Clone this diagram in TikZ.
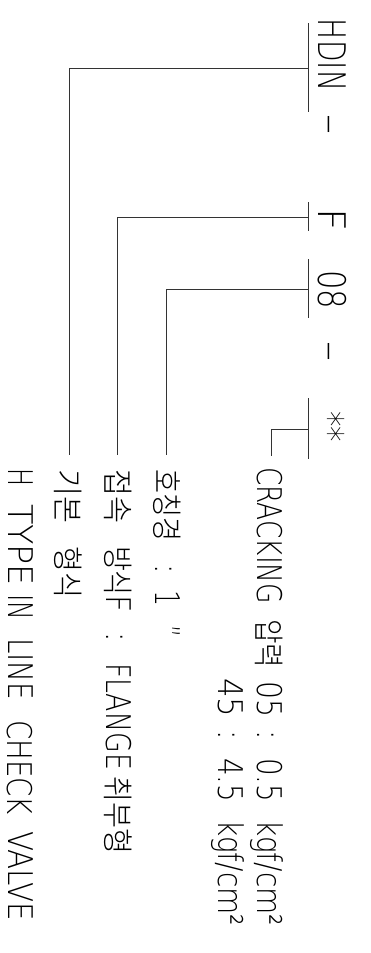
\documentclass[tikz,border=0pt]{standalone}
\usepackage{fontspec}
\usepackage{graphicx}
\IfFontExistsTF{DejaVu Sans ExtraLight}{\setmainfont{DejaVu Sans ExtraLight}}{%
  \IfFontExistsTF{Fira Sans Light}{\setmainfont{Fira Sans Light}}{\setmainfont{Fira Sans}}}
\IfFontExistsTF{Noto Sans CJK KR Light}{\newfontfamily\kr{Noto Sans CJK KR Light}}{%
  \IfFontExistsTF{Noto Sans CJK KR DemiLight}{\newfontfamily\kr{Noto Sans CJK KR DemiLight}}{%
    \IfFontExistsTF{Noto Sans CJK KR Thin}{\newfontfamily\kr{Noto Sans CJK KR Thin}}{\newfontfamily\kr{Noto Sans CJK KR}}}}
\newcommand\fitw[2]{\resizebox{#1pt}{\height}{#2}}
\newcommand\K[1]{{\kr\fontsize{31}{31}\selectfont #1}}
\tikzset{
  code/.style={rotate=-90, anchor=base west, inner sep=0pt, outer sep=0pt, text=black, font=\fontsize{38}{38}\selectfont},
  desc/.style={rotate=-90, anchor=base west, inner sep=0pt, outer sep=0pt, text=black, font=\fontsize{34}{34}\selectfont},
  tick/.style={line width=0.9pt, draw=black!80},
  conn/.style={line width=0.9pt, draw=black!80}
}
\begin{document}
\begin{tikzpicture}[x=1pt,y=1pt]
\useasboundingbox (0,0) rectangle (371,-953);
% code row
\node[code] (hdin) at (318,-19)  {\fitw{72}{HDIN}};
\node[code] (d1)   at (318,-113) {\fitw{22}{-}};
\node[code] (f)    at (318,-208) {\fitw{23}{F}};
\node[code] (n08)  at (318,-270) {\fitw{39}{08}};
\node[code] (d2)   at (318,-340) {\fitw{22}{-}};
\node[code] (ast)  at (316,-411) {\fitw{31}{**}};
% ticks
\coordinate (h1) at (308,-23);  \coordinate (h2) at (308,-112);
\coordinate (f1) at (308,-202); \coordinate (f2) at (308,-231);
\coordinate (o1) at (308,-259); \coordinate (o2) at (308,-318);
\coordinate (a1) at (308,-398); \coordinate (a2) at (308,-459);
\coordinate (hj) at (308,-68);  \coordinate (fj) at (308,-217);
\coordinate (oj) at (308,-289); \coordinate (aj) at (308,-429);
\coordinate (he) at (69,-455);  \coordinate (fe) at (117,-455);
\coordinate (oe) at (166,-455); \coordinate (ae) at (271,-456);
\draw[tick] (h1) -- (h2);
\draw[tick] (f1) -- (f2);
\draw[tick] (o1) -- (o2);
\draw[tick] (a1) -- (a2);
\draw[conn] (hj) -| (he);
\draw[conn] (fj) -| (fe);
\draw[conn] (oj) -| (oe);
\draw[conn] (aj) -| (ae);
% cracking line
\node[desc] (cr1) at (257,-467) {\fitw{137}{CRACKING}};
\node[desc] (cr2) at (257,-619) {\fitw{49}{\K{압력}}};
\node[desc] (cr3) at (257,-681) {\fitw{36}{05}};
\node[desc] (cr4) at (257,-729) {:};
\node[desc] (cr5) at (257,-758) {\fitw{44}{0.5}};
\node[desc] (cr6) at (257,-820) {\fitw{106}{kgf/cm²}};
% 45 line
\node[desc] (p1) at (218,-678) {\fitw{39}{45}};
\node[desc] (p2) at (218,-729) {:};
\node[desc] (p3) at (218,-758) {\fitw{44}{4.5}};
\node[desc] (p4) at (218,-820) {\fitw{106}{kgf/cm²}};
% size line
\node[desc] (s1) at (155,-469) {\fitw{72}{\K{호칭경}}};
\node[desc] (s2) at (155,-563) {:};
\node[desc] (s3) at (155,-590) {\fitw{16}{1}};
\node[desc] (s4) at (155,-625) {\fitw{12}{”}};
% connection line
\node[desc] (c1) at (106,-469) {\fitw{54}{\K{접속}}};
\node[desc] (c2) at (106,-546) {\fitw{67}{\K{방식}F}};
\node[desc] (c3) at (106,-631) {:};
\node[desc] (c4) at (106,-663) {\fitw{107}{FLANGE}};
\node[desc] (c5) at (106,-776) {\fitw{78}{\K{취부형}}};
% basic type line
\node[desc] (b1) at (56,-469) {\fitw{54}{\K{기본}}};
\node[desc] (b2) at (56,-546) {\fitw{52}{\K{형식}}};
% name line
\node[desc] (v1) at (8,-468) {\fitw{18}{H}};
\node[desc] (v2) at (8,-504) {\fitw{82}{TYPE}};
\node[desc] (v3) at (8,-594) {\fitw{26}{IN}};
\node[desc] (v4) at (8,-638) {\fitw{62}{LINE}};
\node[desc] (v5) at (8,-720) {\fitw{95}{CHECK}};
\node[desc] (v6) at (8,-831) {\fitw{90}{VALVE}};
\end{tikzpicture}
\end{document}
